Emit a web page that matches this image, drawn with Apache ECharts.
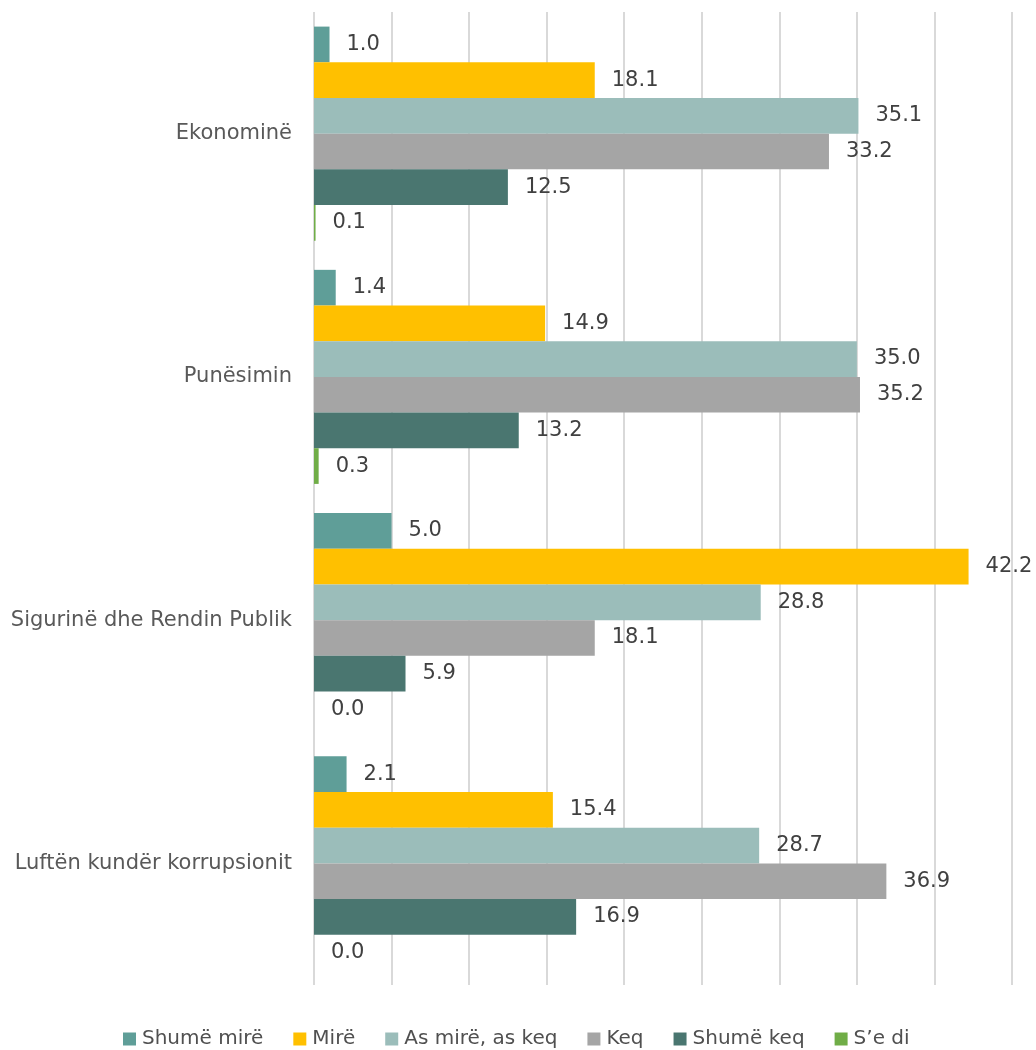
<!DOCTYPE html>
<html>
<head>
<meta charset="utf-8">
<script src="https://cdn.jsdelivr.net/npm/echarts@6/dist/echarts.min.js"></script>
<style>html,body{margin:0;padding:0;background:#fff;}#c{width:1036px;height:1050px;}</style>
</head>
<body>
<div id="c"></div>
<script>
const categories = ["Ekonominë", "Punësimin", "Sigurinë dhe Rendin Publik", "Luftën kundër korrupsionit"];
const seriesNames = ["Shumë mirë", "Mirë", "As mirë, as keq", "Keq", "Shumë keq", "S’e di"];
const shumeMire = [1.0, 1.4, 5.0, 2.1];
const mire = [18.1, 14.9, 42.2, 15.4];
const asMireAsKeq = [35.1, 35.0, 28.8, 28.7];
const keq = [33.2, 35.2, 18.1, 36.9];
const shumeKeq = [12.5, 13.2, 5.9, 16.9];
const seDi = [0.1, 0.3, 0.0, 0.0];
const colors = ["#5f9e98", "#ffc000", "#9bbdba", "#a5a5a5", "#4a7670", "#70ad47"];
const values = [shumeMire, mire, asMireAsKeq, keq, shumeKeq, seDi];
const FONT = "DejaVu Sans";

const chart = echarts.init(document.getElementById('c'));
chart.setOption({
  animation: false,
  grid: {left: 314, right: 24, top: 12, bottom: 65, containLabel: false},
  legend: {
    top: 1024, left: 118,
    itemWidth: 13, itemHeight: 13, itemGap: 30,
    icon: 'rect',
    textStyle: {fontFamily: FONT, fontSize: 20, color: '#505050', padding: [0, 0, 0, 1]},
    data: seriesNames
  },
  xAxis: {
    type: 'value', min: 0, max: 45, interval: 5,
    axisLabel: {show: false},
    axisLine: {show: false}, axisTick: {show: false},
    splitLine: {lineStyle: {color: '#d9d9d9', width: 2}}
  },
  yAxis: {
    type: 'category', data: categories, inverse: true,
    axisLine: {show: false}, axisTick: {show: false},
    axisLabel: {fontFamily: FONT, fontSize: 21, color: '#595959', margin: 22}
  },
  series: seriesNames.map((n, i) => ({
    name: n, type: 'bar', data: values[i],
    barGap: '0%', barCategoryGap: '12%',
    itemStyle: {color: colors[i]},
    label: {show: true, position: 'right', distance: 17, formatter: p => p.value.toFixed(1),
      fontFamily: FONT, fontSize: 21, color: '#404040'}
  }))
});
</script>
</body>
</html>
